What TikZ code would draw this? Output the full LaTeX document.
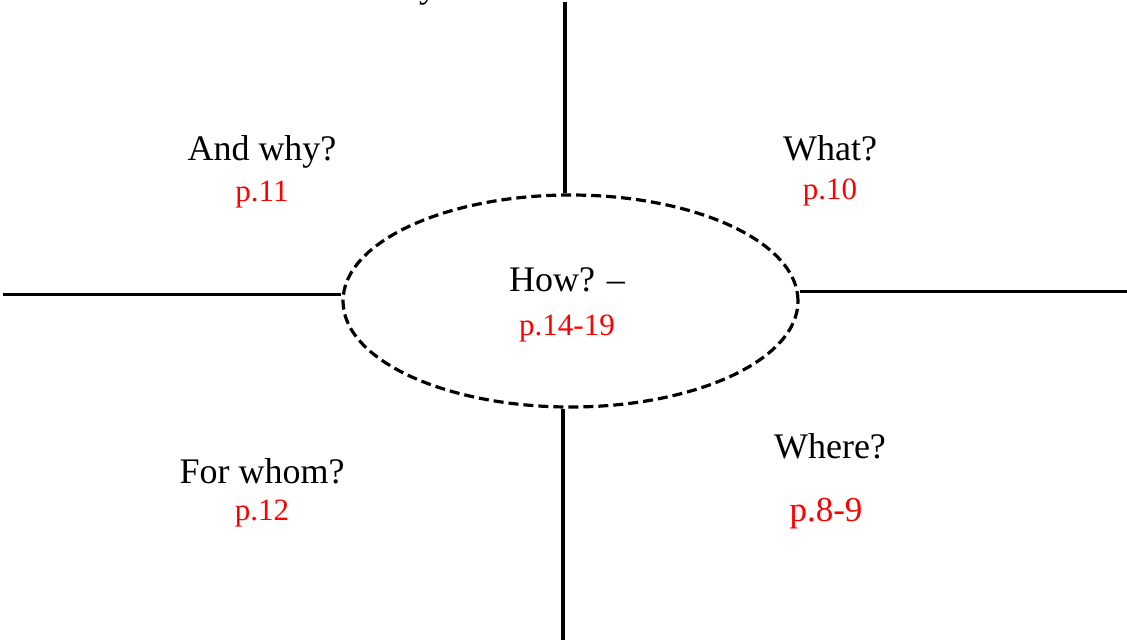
\documentclass[tikz,border=0pt]{standalone}
\usepackage{fontspec}
\setmainfont{Liberation Serif}
\usetikzlibrary{shapes.geometric}
\begin{document}
\begin{tikzpicture}[x=1pt,y=-1pt,
  arm/.style={line width=3.5pt},
  blk/.style={anchor=base,inner sep=0pt,font=\fontsize{36}{40}\selectfont},
  pg/.style={anchor=base,inner sep=0pt,text=red,font=\fontsize{31}{36}\selectfont},
  pgbig/.style={anchor=base,inner sep=0pt,text=red,font=\fontsize{35}{39}\selectfont}]
\useasboundingbox (0,0) rectangle (1127,641);
\node[ellipse,draw,dashed,dash pattern=on 10pt off 5pt,line width=3.2pt,
      minimum width=455pt,minimum height=212pt,inner sep=0pt] (c) at (570.5,301) {};
\coordinate (top) at (565,2);
\coordinate (bot) at (563,640);
\coordinate (lft) at (3,294.5);
\coordinate (rgt) at (1127,291.5);
\draw[arm] (top) -- (top |- c.north);
\draw[arm] (bot) -- (bot |- c.south);
\draw[arm] (lft) -- (lft -| c.west);
\draw[arm] (rgt) -- (rgt -| c.east);
\node[blk] (how) at (567,291) {How? –};
\node[pg] (howp) at (567,335) {p.14-19};
\node[blk] (why) at (262,160) {And why?};
\node[pg] (whyp) at (262,201) {p.11};
\node[blk] (what) at (830,160) {What?};
\node[pg] (whatp) at (830,199) {p.10};
\node[blk] (whom) at (262,483) {For whom?};
\node[pg] (whomp) at (262,520) {p.12};
\node[blk] (where) at (830,458) {Where?};
\node[pgbig] (wherep) at (826,521) {p.8-9};
\node[blk] (frag) at (428,-3) {y};
\end{tikzpicture}
\end{document}
